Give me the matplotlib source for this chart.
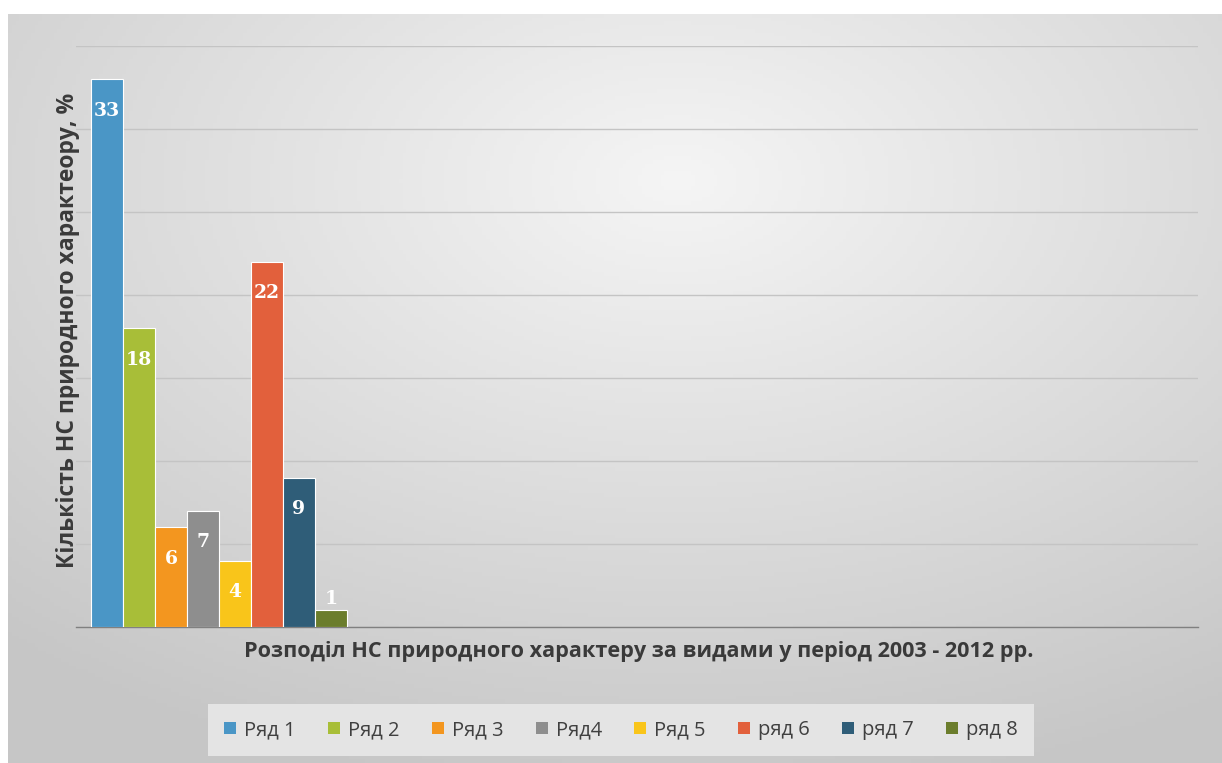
import numpy as np
import matplotlib.pyplot as plt
from matplotlib.patches import Patch

# data
series = ["Ряд 1", "Ряд 2", "Ряд 3", "Ряд4", "Ряд 5", "ряд 6", "ряд 7", "ряд 8"]
values = [33, 18, 6, 7, 4, 22, 9, 1]
colors = ["#4a96c6", "#a8be38", "#f3961f", "#8e8e8e", "#f9c51a",
          "#e2603c", "#2f5d78", "#6b7d2c"]

x_label = "Розподіл НС природного характеру за видами у період 2003 - 2012 рр."
y_label = "Кількість НС природного характеору, %"

plt.rcParams['font.family'] = ['Open Sans', 'DejaVu Sans']

fig = plt.figure(figsize=(12.22, 7.63), dpi=100)
fig.patch.set_facecolor("white")

# gradient background (radial, light centre -> grey edges)
bg = fig.add_axes([8 / 1222, 0, 1 - 8 / 1222, 749 / 763])
h, w = 200, 320
yy, xx = np.mgrid[0:h, 0:w]
cx, cy = w * 0.55, h * 0.22
r = np.sqrt(((xx - cx) / w) ** 2 + ((yy - cy) / h) ** 2)
g = np.clip(0.96 - 0.22 * r, 0.78, 0.965)
bg.imshow(np.dstack([g, g, g]), aspect="auto", extent=[0, 1, 0, 1])
bg.axis("off")

ax = fig.add_axes([76 / 1222, 136 / 763, 1122 / 1222, 581 / 763])
ax.patch.set_alpha(0)

pos = np.arange(len(values))
bars = ax.bar(pos, values, width=1.0, color=colors, edgecolor="white",
              linewidth=0.8, zorder=3)

for xi, v in zip(pos, values):
    if v > 2:
        ax.text(xi, v - 1.9, str(v), ha="center", va="center", color="white",
                fontsize=13.5, fontweight="bold", family="DejaVu Serif", zorder=4)
    else:
        ax.text(xi, v + 0.7, str(v), ha="center", va="center", color="white",
                fontsize=13.5, fontweight="bold", family="DejaVu Serif", zorder=4)

ax.set_xlim(-0.97, 34.1)
ax.set_ylim(0, 35)
ax.set_yticks(np.arange(0, 36, 5))
ax.set_yticklabels([])
ax.set_xticks([])
ax.tick_params(axis="y", length=0)
ax.grid(axis="y", color="#c4c4c4", linewidth=1.0, zorder=0)
for s in ["top", "right", "left"]:
    ax.spines[s].set_visible(False)
ax.spines["bottom"].set_color("#808080")
ax.spines["bottom"].set_linewidth(1.0)

fig.text(639 / 1222, 1 - 651 / 763, x_label, ha="center", va="center",
         fontsize=15.6, fontweight="bold", color="#3a3a3a")
fig.text(68 / 1222, 1 - 330 / 763, y_label, ha="center", va="center",
         rotation=90, fontsize=16.5, fontweight="bold", color="#3a3a3a")

handles = [Patch(facecolor=c, edgecolor="none") for c in colors]
leg = fig.legend(handles, series, loc="center", bbox_to_anchor=(621 / 1222, 1 - 730 / 763),
                 ncol=8, frameon=True, fontsize=14.5, handlelength=0.6, handleheight=0.6,
                 handletextpad=0.4, columnspacing=1.6, borderpad=0.8, fancybox=False,
                 labelcolor="#404040")
leg.get_frame().set_facecolor("#e4e4e4")
leg.get_frame().set_edgecolor("none")
leg.get_frame().set_alpha(1)

fig.savefig("out.png", dpi=100)
